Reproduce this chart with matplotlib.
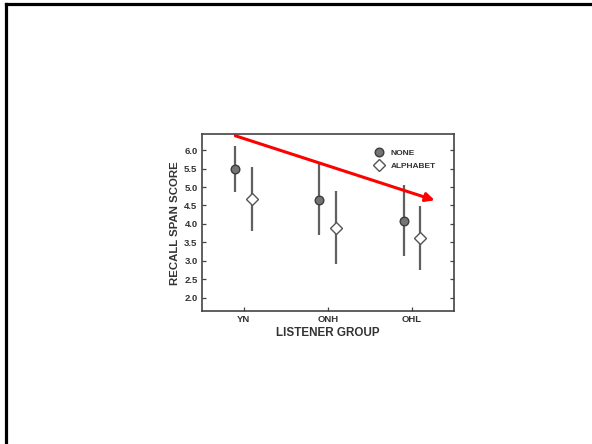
import matplotlib
matplotlib.use("Agg")
import matplotlib.pyplot as plt
from matplotlib.lines import Line2D
import numpy as np

groups = ["YN", "ONH", "OHL"]
none_mean = [5.49, 4.65, 4.07]
none_hi = [6.12, 5.64, 5.05]
none_lo = [4.87, 3.69, 3.13]
alpha_mean = [4.68, 3.89, 3.61]
alpha_hi = [5.55, 4.89, 4.48]
alpha_lo = [3.81, 2.91, 2.74]
yticks = [2.0, 2.5, 3.0, 3.5, 4.0, 4.5, 5.0, 5.5, 6.0]

plt.rcParams['font.family'] = ['Liberation Sans', 'DejaVu Sans']

fig = plt.figure(figsize=(5.92, 4.44), dpi=100)
W, H = 592, 444
ax = fig.add_axes([201.7 / W, 1 - 311 / H, (454 - 201.7) / W, (311 - 134.3) / H])

x = np.arange(1, len(groups) + 1)
off = 0.1
ec = '#606060'

nm = np.array(none_mean)
am = np.array(alpha_mean)
ax.errorbar(x - off, nm, yerr=[nm - np.array(none_lo), np.array(none_hi) - nm],
            fmt='o', ms=6.2, mfc='#747474', mec='#3c3c3c', mew=1.0,
            ecolor=ec, elinewidth=1.6, capsize=0, zorder=3)
ax.errorbar(x + off, am, yerr=[am - np.array(alpha_lo), np.array(alpha_hi) - am],
            fmt='D', ms=5.8, mfc='white', mec='#555555', mew=1.0,
            ecolor=ec, elinewidth=1.6, capsize=0, zorder=3)

ax.set_xlim(0.5, 3.5)
ax.set_ylim(1.64, 6.43)
ax.set_xticks(x)
ax.set_xticklabels(groups, fontsize=6.8, fontweight='bold', color='#333333')
ax.set_yticks(yticks)
ax.set_yticklabels([f"{v:.1f}" for v in yticks], fontsize=6.8, fontweight='bold', color='#333333')
ax.tick_params(direction='in', length=3, width=0.9, color='#444444', right=True, pad=3)
for s in ax.spines.values():
    s.set_color('#444444')
    s.set_linewidth(1.2)

ax.set_xlabel("LISTENER GROUP", fontsize=8.4, fontweight='bold', color='#333333', labelpad=2)
ax.set_ylabel("RECALL SPAN SCORE", fontsize=8.2, fontweight='bold', color='#333333', labelpad=3)

# legend
h1 = Line2D([], [], marker='o', ls='none', ms=6.2, mfc='#747474', mec='#3c3c3c')
h2 = Line2D([], [], marker='D', ls='none', ms=5.8, mfc='white', mec='#555555')
leg = ax.legend([h1, h2], ["NONE", "ALPHABET"], loc='upper right', frameon=False,
                prop={'weight': 'bold', 'size': 6}, handletextpad=0.4,
                labelspacing=0.6, borderaxespad=0.4, bbox_to_anchor=(0.955, 0.955))
for t in leg.get_texts():
    t.set_color('#333333')

# red arrow
ax.annotate("", xy=(3.27, 4.64), xytext=(0.9, 6.39),
            arrowprops=dict(arrowstyle='-|>', color='#ff0000', lw=2.2,
                            mutation_scale=13, shrinkA=0, shrinkB=0),
            annotation_clip=False, zorder=5)

# slide border
fig.add_artist(Line2D([5.5 / W, 1.0], [1 - 4.5 / H, 1 - 4.5 / H], transform=fig.transFigure,
                      color='black', lw=2.3))
fig.add_artist(Line2D([5.5 / W, 5.5 / W], [0.0, 1 - 4.5 / H], transform=fig.transFigure,
                      color='black', lw=2.3))

fig.savefig("out.png", dpi=100)
